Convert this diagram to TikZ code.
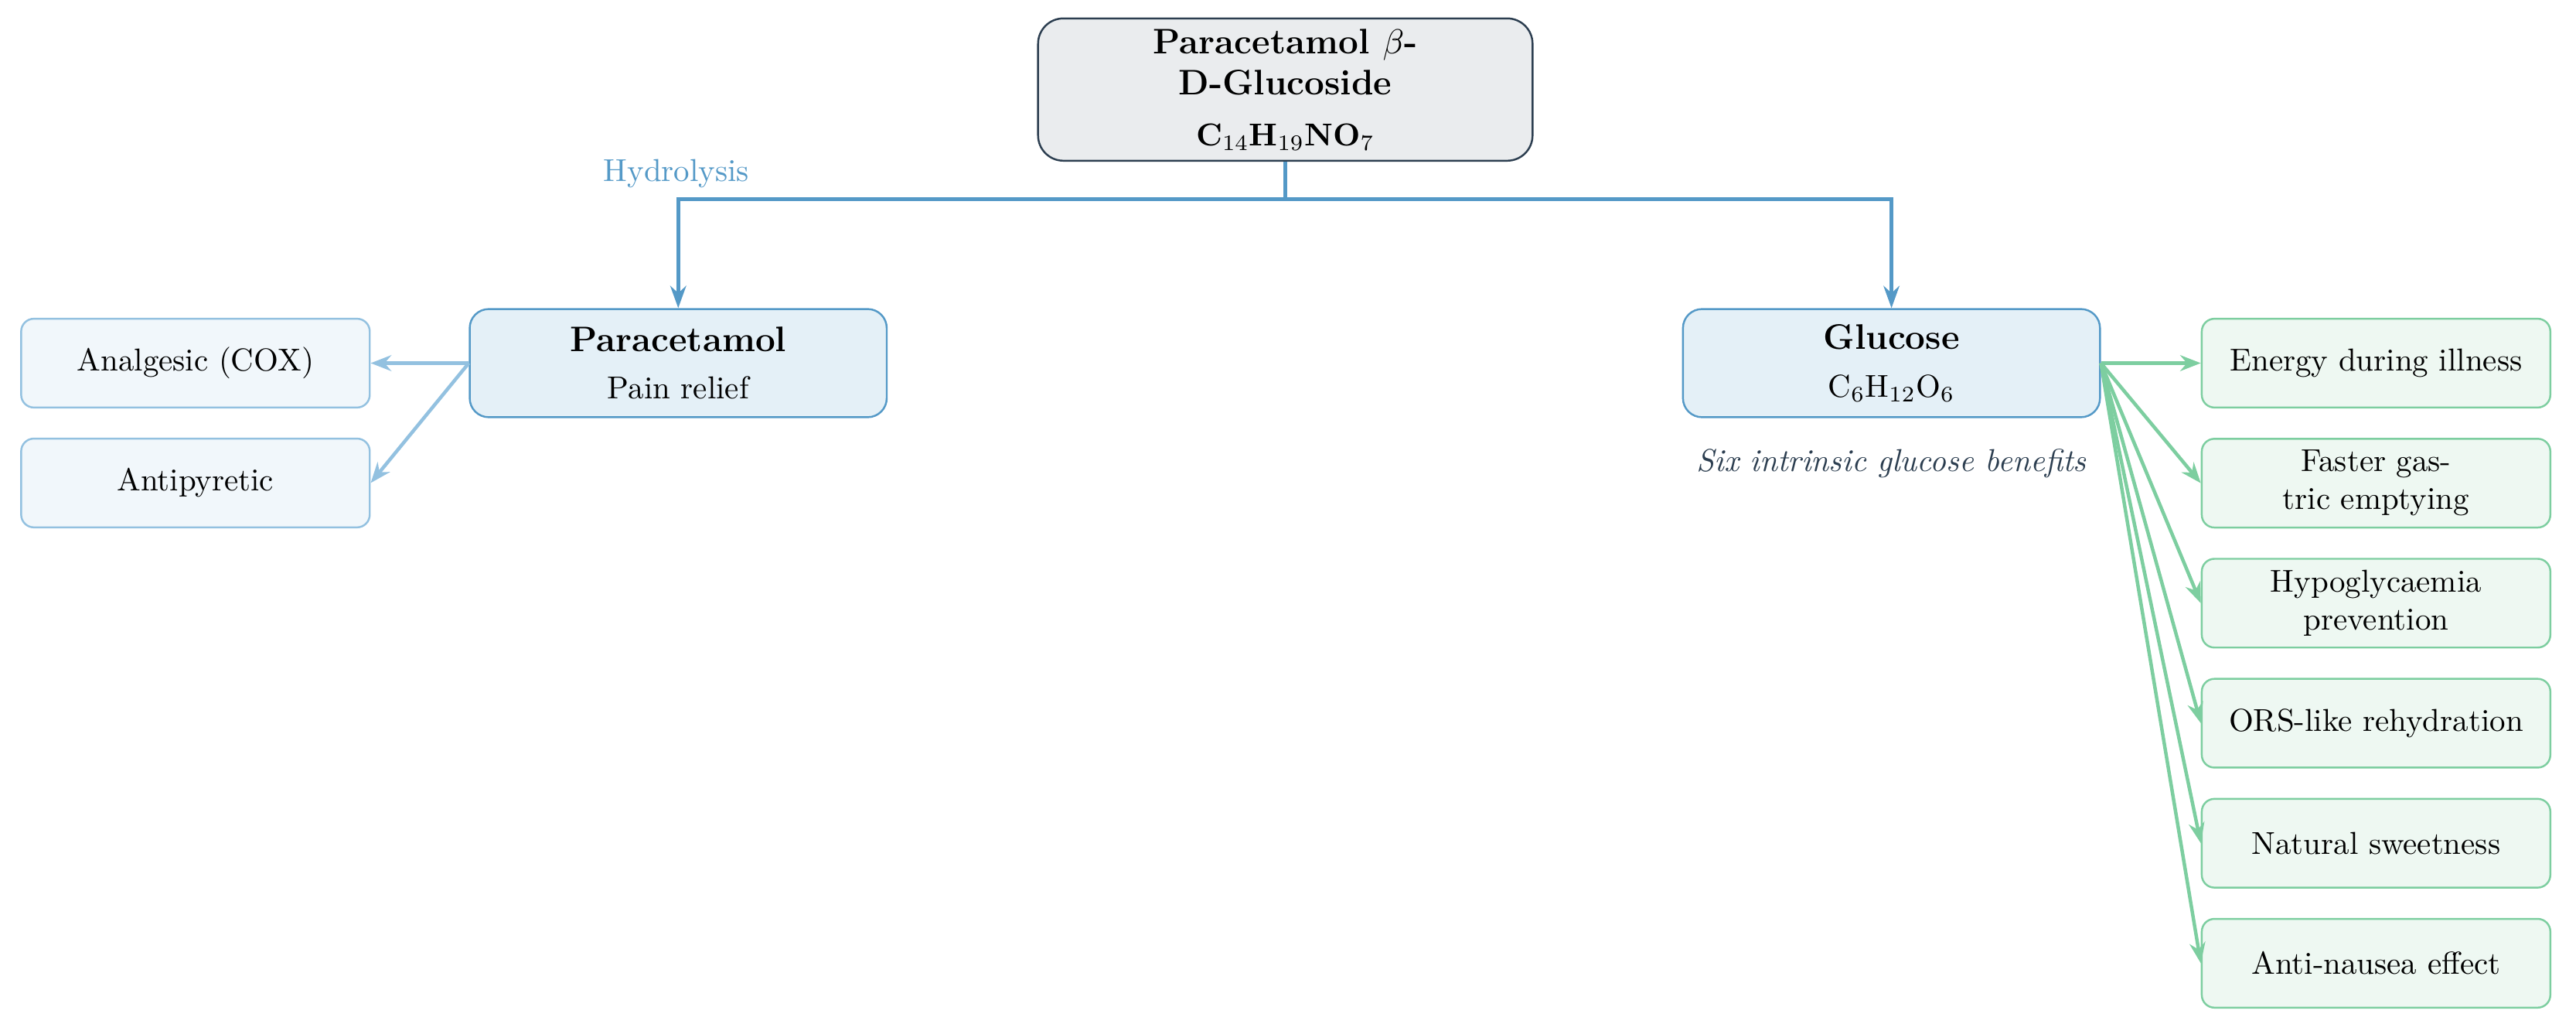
\documentclass[tikz,border=0pt]{standalone}
\usetikzlibrary{arrows.meta,positioning}
\definecolor{topfill}{HTML}{EAECEE}
\definecolor{topline}{HTML}{2C3E50}
\definecolor{hydblue}{HTML}{5499C7}
\definecolor{prodfill}{HTML}{E4F0F7}
\definecolor{effline}{HTML}{93C1E0}
\definecolor{efffill}{HTML}{F1F7FB}
\definecolor{bengreen}{HTML}{7DCEA0}
\definecolor{benfill}{HTML}{EEF8F2}
\definecolor{notecol}{HTML}{2C3E50}
\newcommand{\hd}{\fontsize{11.2}{13.5}\selectfont\bfseries}
\begin{document}
\begin{tikzpicture}[
  parent/.style={draw=topline,fill=topfill,line width=0.6pt,rounded corners=8pt,align=center,minimum width=5.49cm,minimum height=1.55cm},
  product/.style={draw=hydblue,fill=prodfill,line width=0.6pt,rounded corners=6pt,align=center,minimum width=4.63cm,minimum height=1.2cm},
  effect/.style={draw=effline,fill=efffill,line width=0.6pt,rounded corners=4pt,align=center,minimum width=3.87cm,minimum height=0.985cm},
  benefit/.style={draw=bengreen,fill=benfill,line width=0.6pt,rounded corners=4pt,align=center,minimum width=3.87cm,minimum height=0.985cm},
  hyd/.style={draw=hydblue,line width=1.2pt,-{Stealth[length=7pt,width=5pt]}},
  eff/.style={draw=effline,line width=1.1pt,-{Stealth[length=6.5pt,width=5pt]}},
  ben/.style={draw=bengreen,line width=1.1pt,-{Stealth[length=6.5pt,width=5pt]}}]
\useasboundingbox (0,0) rectangle (28.6,-11.44);
%\draw[gray,very thin](0,0) grid (28.6,-11.44);
\node[parent] (pg) at (14.27,-0.994) {\hd Paracetamol $\beta$-\\[1pt]\hd D-Glucoside\\[4pt]\bfseries C$_{14}$H$_{19}$NO$_7$};
\node[product] (para) at (7.53,-4.03) {\hd Paracetamol\\[3pt]Pain relief};
\node[product] (gluc) at (21.0,-4.03) {\hd Glucose\\[3pt]C$_6$H$_{12}$O$_6$};
\coordinate (bus) at (14.27,-2.207);
\draw[hyd] (pg.south) -- (bus) -| (para.north);
\draw[hyd] (bus) -| (gluc.north);
\node[text=hydblue] (hydlabel) at (7.51,-1.93) {Hydrolysis};
\node[effect] (ana) at (2.17,-4.03) {Analgesic (COX)};
\node[effect] (anti) at (2.17,-5.36) {Antipyretic};
\draw[eff] (para.west) -- (ana.east);
\draw[eff] (para.west) -- (anti.east);
\node[text=notecol] (note) at (21.0,-5.14) {\itshape Six intrinsic glucose benefits};
\foreach \txt [count=\i] in {Energy during illness,Faster gas-\\tric emptying,Hypoglycaemia\\prevention,ORS-like rehydration,Natural sweetness,Anti-nausea effect}{
  \node[benefit] (b\i) at (26.38,{-4.03-1.332*(\i-1)}) {\txt};
  \draw[ben] (gluc.east) -- (b\i.west);
}
\end{tikzpicture}
\end{document}
